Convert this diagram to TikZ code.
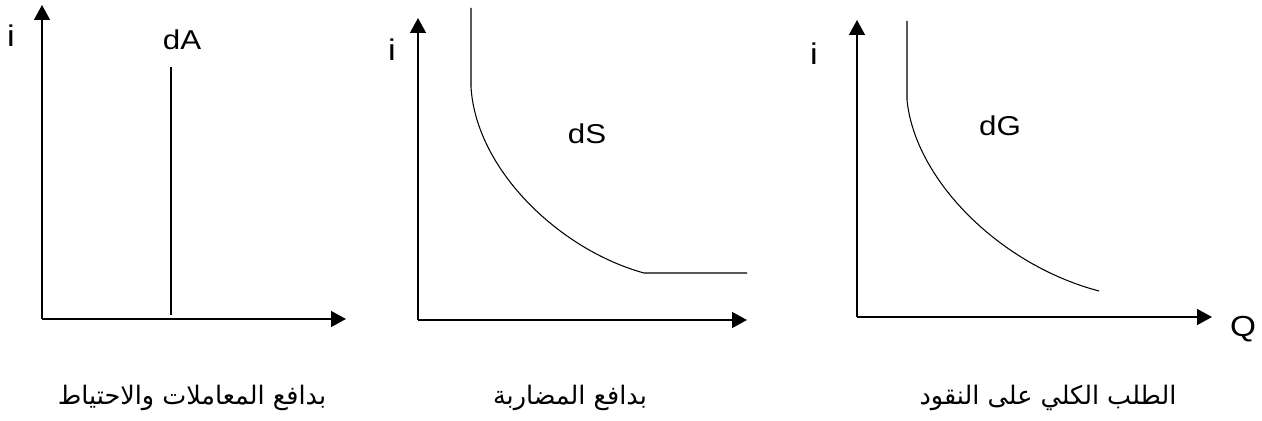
\documentclass[tikz,border=0pt]{standalone}
\usepackage{fontspec}
\setmainfont{Liberation Sans}
\newfontfamily\arabicfont[Script=Arabic]{DejaVu Sans}
\TeXXeTstate=1
\usetikzlibrary{arrows.meta,positioning,calc}
\tikzset{
 axis/.style={-{Triangle[length=8.5pt,width=9pt]},line width=1pt,draw=black},
 curve/.style={line width=0.6pt,draw=black},
 lbl/.style={font=\fontsize{15.5}{18}\selectfont,inner sep=0pt,xscale=1.15,transform shape},
 ilbl/.style={lbl,font=\fontsize{17}{19}\selectfont},
 caption/.style={font=\arabicfont\fontsize{14.5}{17}\selectfont,inner sep=0pt}
}
\begin{document}
\begin{tikzpicture}[x=0.02cm,y=-0.02cm]
 \useasboundingbox (0,0) rectangle (1262,421);
 % transactions and precaution
 \coordinate (oA) at (42,319);
 \coordinate (yA) at (42,5);
 \coordinate (xA) at (346,319);
 \draw[axis] (oA)--(yA);
 \draw[axis] (oA)--(xA);
 \coordinate (dAtop) at (171,67);
 \coordinate (dAbot) at (171,315);
 \draw[curve] (dAtop)--(dAbot);
 \node[ilbl] (iA) at (11,36) {i};
 \node[lbl] (dA) at (182,40) {dA};
 \node[caption] (capA) at (192,398) {\beginR بدافع المعاملات والاحتياط\endR};
 % speculation
 \coordinate (oS) at (418,320);
 \coordinate (yS) at (418,18);
 \coordinate (xS) at (747,320);
 \draw[axis] (oS)--(yS);
 \draw[axis] (oS)--(xS);
 \coordinate (dStop) at (471,8);
 \coordinate (dSknee) at (471,87);
 \coordinate (dSfloor) at (644,273);
 \coordinate (dSend) at (747,273);
 \draw[curve] (dStop)--(dSknee) .. controls (476,170) and (560,250) .. (dSfloor)--(dSend);
 \node[ilbl] (iS) at (392,50) {i};
 \node[lbl] (dS) at (587,134) {dS};
 \node[caption] (capS) at (570,398) {\beginR بدافع المضاربة\endR};
 % total demand
 \coordinate (oG) at (857,317);
 \coordinate (yG) at (857,20);
 \coordinate (xG) at (1212,317);
 \draw[axis] (oG)--(yG);
 \draw[axis] (oG)--(xG);
 \coordinate (dGtop) at (907,21);
 \coordinate (dGknee) at (907,100);
 \coordinate (dGend) at (1099,291);
 \draw[curve] (dGtop)--(dGknee) .. controls (915,180) and (1000,265) .. (dGend);
 \node[ilbl] (iG) at (814,54) {i};
 \node[lbl] (dG) at (1000,126) {dG};
 \node[lbl,font=\fontsize{16.5}{19}\selectfont] (Q) at (1243,329) {Q};
 \node[caption] (capG) at (1048,398) {\beginR الطلب الكلي على النقود\endR};
\end{tikzpicture}
\end{document}
